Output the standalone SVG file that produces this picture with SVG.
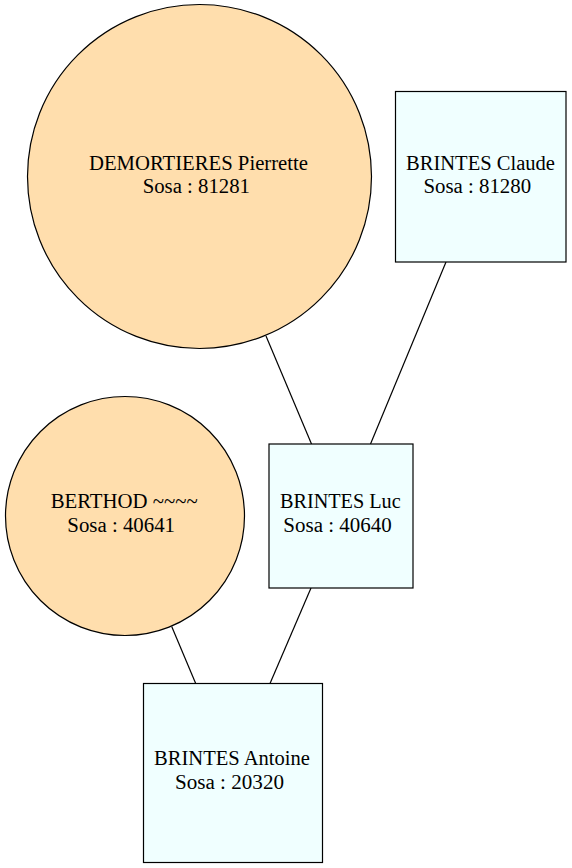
<svg xmlns="http://www.w3.org/2000/svg" width="572" height="868" viewBox="0 0 572 868">
<style>
.f{fill:#FFDEAD;stroke:#000;stroke-width:1.2}
.m{fill:#F0FFFF;stroke:#000;stroke-width:1.2}
.e{stroke:#000;stroke-width:1.2;fill:none}
.t{font-family:'Liberation Serif','DejaVu Serif','Noto Serif',serif;font-size:20px;fill:#000;text-anchor:middle}
</style>
<rect width="572" height="868" fill="#fff"/>
<g id="edges">
<line class="e" x1="266" y1="336" x2="311.5" y2="444"/>
<line class="e" x1="446" y1="262" x2="370.5" y2="444"/>
<line class="e" x1="171.7" y1="626.5" x2="195.7" y2="683.5"/>
<line class="e" x1="311" y1="588" x2="270" y2="683.5"/>
</g>
<g id="n81281">
<circle class="f" cx="199.5" cy="176.5" r="172"/>
<text class="t" x="198.5" y="170" textLength="219" lengthAdjust="spacingAndGlyphs">DEMORTIERES Pierrette</text>
<text class="t" x="196.3" y="193" textLength="107.3" lengthAdjust="spacingAndGlyphs">Sosa : 81281</text>
</g>
<g id="n81280">
<rect class="m" x="395.5" y="91.5" width="170.5" height="170.5"/>
<text class="t" x="480.5" y="170" textLength="149" lengthAdjust="spacingAndGlyphs">BRINTES Claude</text>
<text class="t" x="477.3" y="193" textLength="107.7" lengthAdjust="spacingAndGlyphs">Sosa : 81280</text>
</g>
<g id="n40641">
<circle class="f" cx="125" cy="516" r="119.5"/>
<text class="t" x="124.2" y="508.3" textLength="147" lengthAdjust="spacingAndGlyphs">BERTHOD ~~~~</text>
<text class="t" x="121.2" y="532.3" textLength="107.7" lengthAdjust="spacingAndGlyphs">Sosa : 40641</text>
</g>
<g id="n40640">
<rect class="m" x="269" y="444" width="144" height="144"/>
<text class="t" x="340.3" y="508.3" textLength="120.7" lengthAdjust="spacingAndGlyphs">BRINTES Luc</text>
<text class="t" x="337.5" y="532.3" textLength="108.3" lengthAdjust="spacingAndGlyphs">Sosa : 40640</text>
</g>
<g id="n20320">
<rect class="m" x="143.5" y="683.5" width="179" height="179"/>
<text class="t" x="232" y="765" textLength="156" lengthAdjust="spacingAndGlyphs">BRINTES Antoine</text>
<text class="t" x="229.5" y="789" textLength="109" lengthAdjust="spacingAndGlyphs">Sosa : 20320</text>
</g>
</svg>
